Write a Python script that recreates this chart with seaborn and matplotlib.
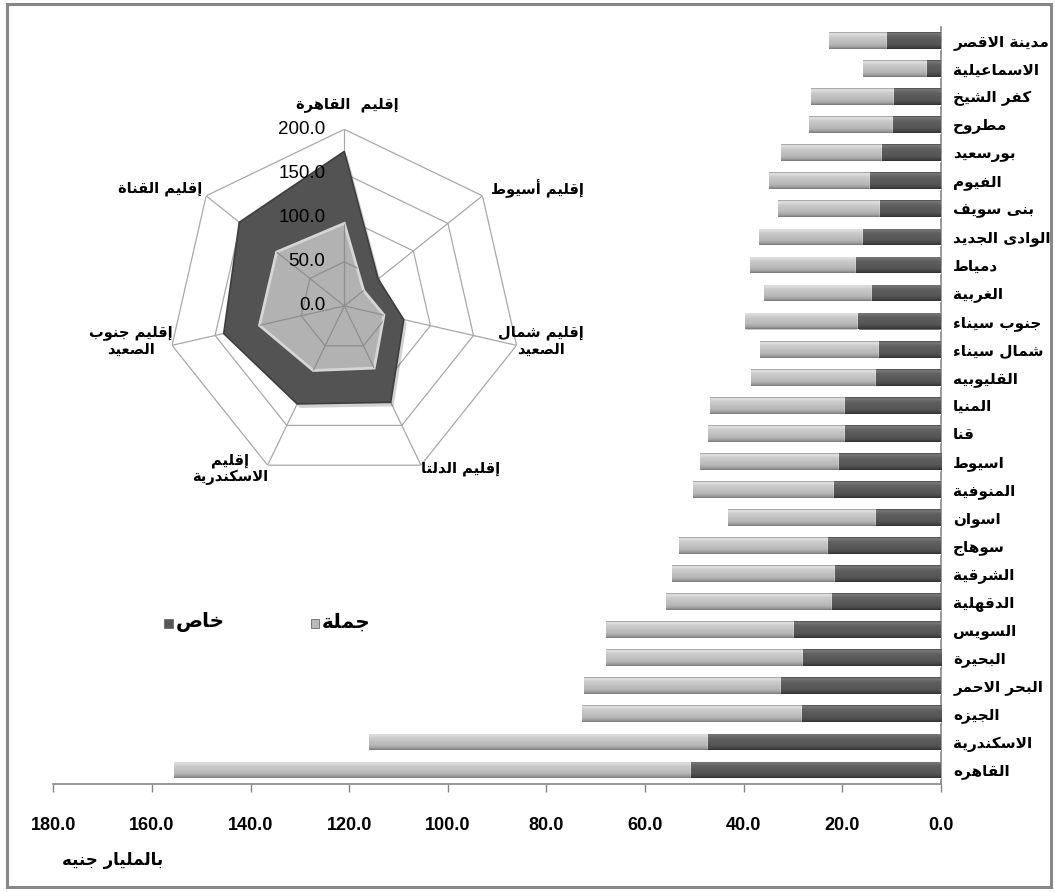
import numpy as np
import pandas as pd
import matplotlib
matplotlib.use("Agg")
import matplotlib.pyplot as plt
import seaborn as sns
from matplotlib.patches import Rectangle
from matplotlib.colors import LinearSegmentedColormap
from matplotlib.transforms import offset_copy

# ---------------------------------------------------------------- data
governorates = [
    "مدينة الاقصر", "الاسماعيلية", "كفر الشيخ", "مطروح", "بورسعيد", "الفيوم",
    "بنى سويف", "الوادى الجديد", "دمياط", "الغربية", "جنوب سيناء", "شمال سيناء",
    "القليوبيه", "المنيا", "قنا", "اسيوط", "المنوفية", "اسوان", "سوهاج",
    "الشرقية", "الدقهلية", "السويس", "البحيرة", "البحر الاحمر", "الجيزه",
    "الاسكندرية", "القاهره",
]
total_invest = [22.6, 15.7, 26.4, 26.7, 32.4, 34.9, 33.0, 36.9, 38.7, 35.9,
                39.7, 36.7, 38.5, 46.7, 47.1, 48.8, 50.2, 43.2, 53.1, 54.5,
                55.8, 67.8, 67.8, 72.4, 72.8, 115.9, 155.5]
private_invest = [10.8, 2.7, 9.5, 9.7, 11.9, 14.4, 12.3, 15.7, 17.1, 13.9,
                  16.8, 12.5, 13.1, 19.4, 19.4, 20.7, 21.7, 13.1, 22.8, 21.5,
                  22.1, 29.7, 28.0, 32.4, 28.2, 47.1, 50.7]
x_ticks = [180, 160, 140, 120, 100, 80, 60, 40, 20, 0]

regions = ["إقليم  القاهرة", "إقليم أسيوط", "إقليم شمال\nالصعيد", "إقليم الدلتا",
           "إقليم\nالاسكندرية", "إقليم جنوب\nالصعيد", "إقليم القناة"]
region_outer = [175.0, 49.0, 69.0, 121.0, 123.0, 140.0, 152.0]
region_inner = [93.5, 28.0, 46.0, 78.0, 81.0, 98.5, 98.0]
radar_rings = [0, 50, 100, 150, 200]

legend_labels = ["خاص", "جملة"]
unit_label = "بالمليار جنيه"

# ---------------------------------------------------------------- arabic shaping
_FORMS = {
    "ء": (0xFE80,), "آ": (0xFE81, 0xFE82), "أ": (0xFE83, 0xFE84),
    "ؤ": (0xFE85, 0xFE86), "إ": (0xFE87, 0xFE88), "ا": (0xFE8D, 0xFE8E),
    "ة": (0xFE93, 0xFE94), "د": (0xFEA9, 0xFEAA), "ذ": (0xFEAB, 0xFEAC),
    "ر": (0xFEAD, 0xFEAE), "ز": (0xFEAF, 0xFEB0), "و": (0xFEED, 0xFEEE),
    "ى": (0xFEEF, 0xFEF0, 0xFBE8, 0xFBE9),
}
for _ch, _base in [("ئ", 0xFE89), ("ب", 0xFE8F), ("ت", 0xFE95), ("ث", 0xFE99),
                   ("ج", 0xFE9D), ("ح", 0xFEA1), ("خ", 0xFEA5), ("س", 0xFEB1),
                   ("ش", 0xFEB5), ("ص", 0xFEB9), ("ض", 0xFEBD), ("ط", 0xFEC1),
                   ("ظ", 0xFEC5), ("ع", 0xFEC9), ("غ", 0xFECD), ("ف", 0xFED1),
                   ("ق", 0xFED5), ("ك", 0xFED9), ("ل", 0xFEDD), ("م", 0xFEE1),
                   ("ن", 0xFEE5), ("ه", 0xFEE9), ("ي", 0xFEF1)]:
    _FORMS[_ch] = tuple(_base + k for k in range(4))
_LAM_ALEF = {"آ": (0xFEF5, 0xFEF6), "أ": (0xFEF7, 0xFEF8),
             "إ": (0xFEF9, 0xFEFA), "ا": (0xFEFB, 0xFEFC)}


def _shape_line(s):
    tokens = []
    i = 0
    while i < len(s):
        c = s[i]
        if c == "ل" and i + 1 < len(s) and s[i + 1] in _LAM_ALEF:
            tokens.append(_LAM_ALEF[s[i + 1]])
            i += 2
            continue
        tokens.append(_FORMS.get(c, c))
        i += 1
    out = []
    for k, t in enumerate(tokens):
        if isinstance(t, str):
            out.append(t)
            continue
        prev = tokens[k - 1] if k > 0 else None
        nxt = tokens[k + 1] if k + 1 < len(tokens) else None
        jp = len(t) >= 2 and isinstance(prev, tuple) and len(prev) == 4
        jn = len(t) == 4 and isinstance(nxt, tuple) and len(nxt) >= 2
        idx = 3 if (jp and jn) else 1 if jp else 2 if jn else 0
        out.append(chr(t[idx]))
    return "".join(out)[::-1]


def ar(text):
    return "\n".join(_shape_line(line) for line in text.split("\n"))


# ---------------------------------------------------------------- figure
W, H = 1055, 892
sns.set_theme(style="white")
plt.rcParams["font.family"] = ["DejaVu Sans"]
fig = plt.figure(figsize=(W / 100, H / 100), dpi=100)
fig.patch.set_facecolor("white")


def fx(px):
    return px / W


def fy(py):
    return 1 - py / H


# outer frame
fig.add_artist(Rectangle((fx(7), fy(887)), fx(1051) - fx(7), fy(4) - fy(887),
                         transform=fig.transFigure, fill=False,
                         edgecolor="#878787", linewidth=2.2))

# ---------------------------------------------------------------- bar chart
ax = fig.add_axes([fx(53.3), fy(784), fx(940.7) - fx(53.3), fy(26.5) - fy(784)])
df = pd.DataFrame({"gov": governorates, "total": total_invest,
                   "private": private_invest})

sns.barplot(data=df, x="total", y="gov", orient="h", color="#bdbdbd",
            width=0.6, ax=ax, zorder=1)
n_light = len(ax.patches)
sns.barplot(data=df, x="private", y="gov", orient="h", color="#585858",
            width=0.6, ax=ax, zorder=3)

light_cmap = LinearSegmentedColormap.from_list(
    "lightbar", [(0.0, "#8c8c8c"), (0.07, "#e4e4e4"), (0.28, "#cbcbcb"),
                 (0.72, "#b7b7b7"), (0.9, "#9c9c9c"), (1.0, "#767676")])
dark_cmap = LinearSegmentedColormap.from_list(
    "darkbar", [(0.0, "#454545"), (0.07, "#7a7a7a"), (0.3, "#5f5f5f"),
                (0.72, "#555555"), (0.9, "#444444"), (1.0, "#2f2f2f")])
grad = np.linspace(0, 1, 64)[:, None]
for k, p in enumerate(ax.patches):
    cmap = light_cmap if k < n_light else dark_cmap
    z = 2 if k < n_light else 4
    x0, y0, w, h = p.get_x(), p.get_y(), p.get_width(), p.get_height()
    im = ax.imshow(grad, cmap=cmap, vmin=0, vmax=1, aspect="auto",
                   extent=(x0, x0 + w, y0 + h, y0), origin="upper",
                   interpolation="bilinear", zorder=z)
    im.set_clip_path(p)

ax.set_xlim(180, 0)
ax.set_ylim(len(governorates) - 0.5, -0.5)
ax.set_xticks(x_ticks)
ax.set_xticklabels([f"{v:.1f}" for v in x_ticks], fontfamily="Liberation Sans",
                   fontweight="bold", fontsize=13, color="black")
ax.set_yticks(range(len(governorates)))
ax.set_yticklabels([ar(g) for g in governorates], fontweight="bold",
                   fontsize=11, color="black")
ax.yaxis.tick_right()
ax.tick_params(axis="y", length=0, pad=9)
ax.tick_params(axis="x", direction="out", length=6, width=1, color="#868686",
               pad=18, bottom=True)
ax.set_xlabel("")
ax.set_ylabel("")
for side in ["top", "left"]:
    ax.spines[side].set_visible(False)
for side in ["right", "bottom"]:
    ax.spines[side].set_color("#868686")
    ax.spines[side].set_linewidth(1.2)
ax.set_facecolor("none")
ax.grid(False)

fig.text(fx(113), fy(860), ar(unit_label), ha="center", va="center",
         fontsize=12, fontweight="bold", color="black")

# legend
for (sx, tx, col, lab) in [(164, 176, "#575757", legend_labels[0]),
                           (311, 322, "#b8b8b8", legend_labels[1])]:
    fig.add_artist(Rectangle((fx(sx), fy(628)), fx(8.5), fy(619) - fy(628),
                             transform=fig.transFigure, facecolor=col,
                             edgecolor="#6a6a6a", linewidth=0.6))
    fig.text(fx(tx), fy(622), ar(lab), ha="left", va="center",
             fontsize=14.5, fontweight="bold", color="black")

# ---------------------------------------------------------------- radar
cx, cy, R = 344.3, 306.0, 176.7
rax = fig.add_axes([fx(cx - R), fy(cy + R), fx(2 * R), fy(cy - R) - fy(cy + R)],
                   projection="polar")
rax.set_theta_zero_location("N")
rax.set_theta_direction(-1)
rax.set_ylim(0, 200)
rax.set_xticks([])
rax.set_yticks([])
rax.grid(False)
rax.spines["polar"].set_visible(False)
rax.set_facecolor("none")

ang = np.arange(len(regions)) * 2 * np.pi / len(regions)
ang_c = np.append(ang, ang[0])
outer_c = np.append(region_outer, region_outer[0])
inner_c = np.append(region_inner, region_inner[0])


def draw_grid(clip=None, color="#a8a8a8", z=1):
    arts = []
    for r in radar_rings[1:]:
        arts += rax.plot(ang_c, [r] * len(ang_c), color=color, lw=0.9, zorder=z)
    for a in ang:
        arts += rax.plot([a, a], [0, radar_rings[-1]], color=color, lw=0.9,
                         zorder=z)
    if clip is not None:
        for a_ in arts:
            a_.set_clip_path(clip)


draw_grid()

shadow_tr = offset_copy(rax.transData, fig=fig, x=3, y=-4, units="dots")
rax.fill(ang_c, outer_c, color="#000000", alpha=0.18, lw=0, zorder=2,
         transform=shadow_tr)
rax.fill(ang_c, outer_c, facecolor="#535353", edgecolor="#3e3e3e", lw=1.2,
         zorder=3)
light_poly = rax.fill(ang_c, inner_c, facecolor="#b2b2b2", edgecolor="#d6d6d6",
                      lw=2.0, zorder=4)[0]
draw_grid(clip=light_poly, color="#8e8e8e", z=5)

lab_tr = offset_copy(rax.transData, fig=fig, x=-19, y=0, units="dots")
for r in radar_rings:
    rax.text(0, r, f"{r:.1f}", transform=lab_tr, ha="right", va="center",
             fontsize=13.5, fontfamily="Liberation Sans", color="black", zorder=6)

region_pos = [(347, 105, "center"), (537, 189, "center"), (541, 341, "center"),
              (461, 469, "center"), (230, 469, "center"), (131, 341, "center"),
              (160, 189, "center")]
for name, (px, py, ha) in zip(regions, region_pos):
    fig.text(fx(px), fy(py), ar(name), ha=ha, va="center", fontsize=10.5,
             fontweight="bold", color="black", linespacing=1.15,
             multialignment="center")

fig.savefig("out.png", dpi=100, facecolor="white")
